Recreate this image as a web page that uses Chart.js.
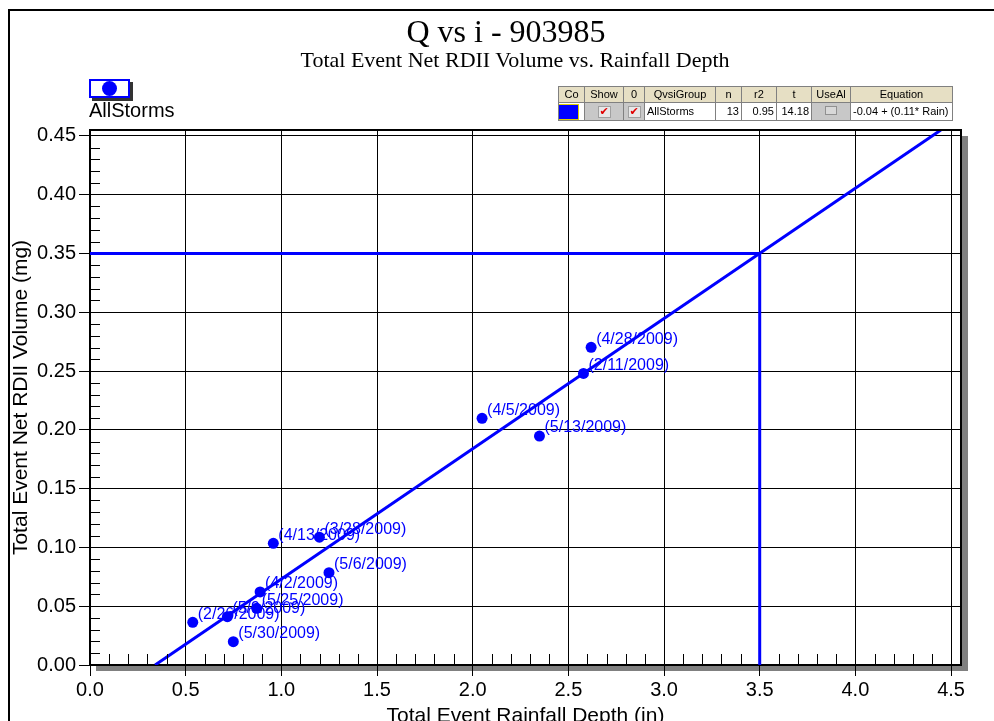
<!DOCTYPE html>
<html>
<head>
<meta charset="utf-8">
<script src="https://cdn.jsdelivr.net/npm/chart.js@4.4.1/dist/chart.umd.min.js"></script>
<style>
    html, body { margin: 0; padding: 0; background: #fff; overflow: hidden; }
    #wrap { position: relative; width: 994px; height: 721px; }
    #qviChart { position: absolute; left: 0; top: 0; }
    .frame-top { position: absolute; left: 8px; top: 9px; width: 990px; height: 2px; background: #000; }
    .frame-left { position: absolute; left: 8px; top: 9px; width: 2px; height: 720px; background: #000; }
    .title { position: absolute; font-family: "Liberation Serif", serif; color: #000; text-align: center; white-space: nowrap; }
    #mainTitle { left: 306px; width: 400px; top: 15px; font-size: 32px; line-height: 32px; }
    #subTitle { left: 215px; width: 600px; top: 49px; font-size: 22px; line-height: 22px; }
    #legendBox { position: absolute; left: 89px; top: 79px; width: 37px; height: 15px; border: 2px solid #0000ff; background: #fff; box-shadow: 3px 3px 0 #333; }
    #legendBox span { position: absolute; left: 11px; top: 0px; width: 15px; height: 15px; border-radius: 50%; background: #0000ff; }
    #legendText { position: absolute; left: 89px; top: 100px; font-family: "Liberation Sans", sans-serif; font-size: 20px; line-height: 20px; color: #000; }
    #statsTable { position: absolute; left: 558px; top: 86px; border-collapse: collapse; font-family: "Liberation Sans", sans-serif; font-size: 11px; border: 1px solid #404040; }
    #statsTable td { border: 1px solid #808080; padding: 0 2px; height: 15px; line-height: 13px; white-space: nowrap; }
    #statsTable tr.head td { background: #e6dfc4; text-align: center; }
    #statsTable tr.row td { height: 17px; background: #fff; }
    #statsTable td.gray { background: #c8c8c8 !important; text-align: center; }
    #statsTable td.num { text-align: right; }
    .swatch { display: block; width: 19px; height: 14px; background: #0000ff; border: 1px solid #e0d000; margin: 0 -1px; }
    .chk { display: inline-block; width: 11px; height: 10px; line-height: 10px; background: #e8e8e8; color: #e00000; font-size: 11px; font-family: "DejaVu Sans", sans-serif; border: 1px solid #a0a0a0; }
    .box { display: inline-block; width: 10px; height: 7px; background: #d8d8d8; border: 1px solid #909090; }
</style>
</head>
<body>
<div id="wrap">
    <canvas id="qviChart" width="994" height="721"></canvas>
    <div class="frame-top"></div>
    <div class="frame-left"></div>
    <div class="title" id="mainTitle">Q vs i - 903985</div>
    <div class="title" id="subTitle">Total Event Net RDII Volume vs. Rainfall Depth</div>
    <div id="legendBox"><span></span></div>
    <div id="legendText">AllStorms</div>
    <table id="statsTable">
        <tr class="head">
            <td style="width:21px">Co</td><td style="width:34px">Show</td><td style="width:16px">0</td>
            <td style="width:66px">QvsiGroup</td><td style="width:21px">n</td><td style="width:30px">r2</td>
            <td style="width:30px">t</td><td style="width:34px">UseAl</td><td style="width:97px">Equation</td>
        </tr>
        <tr class="row">
            <td style="padding:0"><span class="swatch"></span></td>
            <td class="gray"><span class="chk">✔</span></td>
            <td class="gray"><span class="chk">✔</span></td>
            <td>AllStorms</td>
            <td class="num">13</td>
            <td class="num">0.95</td>
            <td class="num">14.18</td>
            <td class="gray"><span class="box"></span></td>
            <td>-0.04 + (0.11* Rain)</td>
        </tr>
    </table>
</div>
<script>
// storm events
const stormLabels = ['(2/26/2009)', '(5/9/2009)', '(5/30/2009)', '(5/25/2009)', '(4/2/2009)', '(4/13/2009)',
    '(3/28/2009)', '(5/6/2009)', '(4/5/2009)', '(5/13/2009)', '(2/11/2009)', '(4/28/2009)'];
const rainDepth = [0.537, 0.718, 0.749, 0.871, 0.889, 0.958, 1.199, 1.249, 2.049, 2.349, 2.579, 2.619];
const rdiiVolume = [0.0363, 0.0411, 0.0198, 0.0482, 0.0621, 0.1035, 0.1087, 0.0785, 0.2098, 0.1947, 0.2480, 0.2702];

// regression line  Q = a + b * Rain
const fitIntercept = -0.0377;
const fitSlope = 0.1108;

// design storm guide
const designRain = 3.5;
const designVolume = 0.35;

// axes
const xMin = 0, xMax = 4.552, xStep = 0.5, xMinor = 0.1;
const yMin = 0, yMax = 0.455, yStep = 0.05, yMinor = 0.01;

const BLUE = '#0000ff';
const SANS = '"Liberation Sans", Arial, sans-serif';

const points = rainDepth.map((x, i) => ({ x: x, y: rdiiVolume[i] }));
const fitLine = [
    { x: (yMin - fitIntercept) / fitSlope, y: yMin },
    { x: (yMax - fitIntercept) / fitSlope, y: yMax }
];
const guideLine = [
    { x: xMin, y: designVolume },
    { x: designRain, y: designVolume },
    { x: designRain, y: yMin }
];

// frame, shadow, minor ticks and point labels
const decorPlugin = {
    id: 'decor',
    beforeDraw(chart) {
        const ctx = chart.ctx;
        const a = chart.chartArea;
        ctx.save();
        ctx.fillStyle = '#808080';
        ctx.fillRect(a.right + 1, a.top + 6, 6, a.bottom - a.top);
        ctx.fillRect(a.left + 6, a.bottom + 1, a.right - a.left, 5);
        ctx.restore();
    },
    afterDatasetsDraw(chart) {
        const ctx = chart.ctx;
        const a = chart.chartArea;
        const xs = chart.scales.x;
        const ys = chart.scales.y;
        ctx.save();
        ctx.strokeStyle = '#000';
        ctx.lineWidth = 1;
        ctx.beginPath();
        for (let i = 1; i * yMinor < yMax; i++) {
            if (i % 5 === 0) continue;
            const py = Math.round(ys.getPixelForValue(i * yMinor)) + 0.5;
            ctx.moveTo(a.left, py);
            ctx.lineTo(a.left + 10, py);
        }
        for (let i = 1; i * xMinor < xMax; i++) {
            if (i % 5 === 0) continue;
            const px = Math.round(xs.getPixelForValue(i * xMinor)) + 0.5;
            ctx.moveTo(px, a.bottom);
            ctx.lineTo(px, a.bottom - 11);
        }
        ctx.stroke();

        // top and right border
        ctx.lineWidth = 2;
        ctx.beginPath();
        ctx.moveTo(a.left, a.top);
        ctx.lineTo(a.right, a.top);
        ctx.lineTo(a.right, a.bottom);
        ctx.stroke();

        // date labels
        ctx.fillStyle = BLUE;
        ctx.font = '16px ' + SANS;
        ctx.textAlign = 'left';
        ctx.textBaseline = 'middle';
        const meta = chart.getDatasetMeta(0);
        meta.data.forEach((el, i) => {
            ctx.fillText(stormLabels[i], el.x + 5, el.y - 8);
        });
        ctx.restore();
    }
};

new Chart(document.getElementById('qviChart'), {
    type: 'scatter',
    data: {
        datasets: [
            {
                label: 'AllStorms',
                data: points,
                pointRadius: 5.5,
                pointBackgroundColor: BLUE,
                pointBorderColor: BLUE,
                borderWidth: 0
            },
            {
                label: 'Fit',
                data: fitLine,
                showLine: true,
                borderColor: BLUE,
                borderWidth: 3,
                pointRadius: 0
            },
            {
                label: 'Design',
                data: guideLine,
                showLine: true,
                borderColor: BLUE,
                borderWidth: 3,
                pointRadius: 0
            }
        ]
    },
    options: {
        responsive: false,
        animation: false,
        devicePixelRatio: 1,
        layout: { padding: { left: 0, top: 130, right: 33, bottom: 0 } },
        plugins: {
            legend: { display: false },
            title: { display: false },
            tooltip: { enabled: false }
        },
        scales: {
            x: {
                type: 'linear',
                min: xMin,
                max: xMax,
                afterFit: (scale) => { scale.height = 56; },
                ticks: {
                    stepSize: xStep,
                    includeBounds: false,
                    autoSkip: false,
                    maxRotation: 0,
                    color: '#000',
                    padding: 2,
                    font: { family: SANS, size: 20 },
                    callback: (v) => v.toFixed(1)
                },
                grid: { color: '#000', lineWidth: 1, tickLength: 11, tickColor: '#000' },
                border: { display: true, color: '#000', width: 2 },
                title: {
                    display: true,
                    text: 'Total Event Rainfall Depth (in)',
                    color: '#000',
                    font: { family: SANS, size: 21 },
                    padding: { top: 0, bottom: -8 }
                }
            },
            y: {
                type: 'linear',
                min: yMin,
                max: yMax,
                afterFit: (scale) => { scale.width = 90; },
                ticks: {
                    stepSize: yStep,
                    includeBounds: false,
                    autoSkip: false,
                    color: '#000',
                    padding: 3,
                    font: { family: SANS, size: 20 },
                    callback: (v) => v.toFixed(2)
                },
                grid: { color: '#000', lineWidth: 1, tickLength: 11, tickColor: '#000' },
                border: { display: true, color: '#000', width: 2 },
                title: {
                    display: true,
                    text: 'Total Event Net RDII Volume (mg)',
                    color: '#000',
                    font: { family: SANS, size: 21 },
                    padding: { top: 9, bottom: 0 }
                }
            }
        }
    },
    plugins: [decorPlugin]
});
</script>
</body>
</html>
